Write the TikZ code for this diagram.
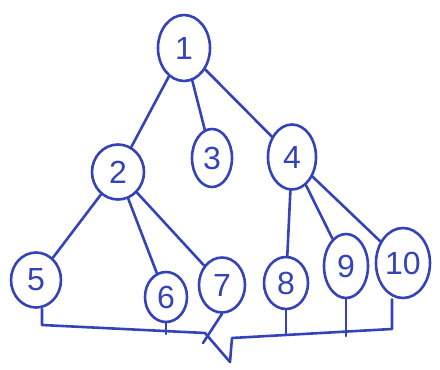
\documentclass[tikz,border=0pt]{standalone}
\usepackage{fontspec}
\setsansfont{Liberation Sans}
\usetikzlibrary{shapes.geometric}
\definecolor{pen}{HTML}{3443B8}

\tikzset{
  vertex/.style={ellipse, draw=pen, line width=2.6pt, inner sep=0pt, text=pen,
    font=\sffamily\fontsize{32}{32}\selectfont},
  branch/.style={draw=pen, line width=2.6pt, line cap=round, line join=round}
}

\begin{document}
\begin{tikzpicture}[x=1pt,y=-1pt]
\useasboundingbox (0,0) rectangle (440,370);
% nodes of the tree
\node[vertex, minimum width=52pt, minimum height=66pt] (n1) at (184,48) {1};
\node[vertex, minimum width=52pt, minimum height=55pt] (n2) at (118,172) {2};
\node[vertex, minimum width=40pt, minimum height=58pt] (n3) at (212,158) {3};
\node[vertex, minimum width=48pt, minimum height=65pt] (n4) at (292,157) {4};
\node[vertex, minimum width=50pt, minimum height=55pt] (n5) at (36,280) {5};
\node[vertex, minimum width=42pt, minimum height=50pt] (n6) at (166,297) {6};
\node[vertex, minimum width=46pt, minimum height=55pt] (n7) at (222,285) {7};
\node[vertex, minimum width=44pt, minimum height=52pt] (n8) at (286,283) {8};
\node[vertex, minimum width=44pt, minimum height=64pt] (n9) at (346,266) {9};
\node[vertex, minimum width=54pt, minimum height=70pt] (n10) at (403,263) {10};

% edges
\draw[branch] (n1) -- (n2);
\draw[branch] (n1) -- (n3);
\draw[branch] (n1) -- (n4);
\draw[branch] (n2) -- (n5);
\draw[branch] (n2) -- (n6);
\draw[branch] (n2) -- (n7);
\draw[branch] (n4) -- (n8);
\draw[branch] (n4) -- (n9);
\draw[branch] (n4) -- (n10);

% brace under the leaves
\coordinate (bl) at (42,325);
\coordinate (bm) at (205,333);
\coordinate (tip) at (230,362);
\coordinate (bn) at (232,338);
\coordinate (br) at (392,329);
\draw[branch] (n5.south -| bl) -- (bl) -- (bm) -- (tip) -- (bn) -- (br) -- (br |- n10.south);
\draw[branch] (n6.south) -- (166,334);
\draw[branch] (n7.south) -- (203,343);
\draw[branch] (n8.south) -- (286,334);
\draw[branch] (n9.south) -- (346,336);
\end{tikzpicture}
\end{document}
